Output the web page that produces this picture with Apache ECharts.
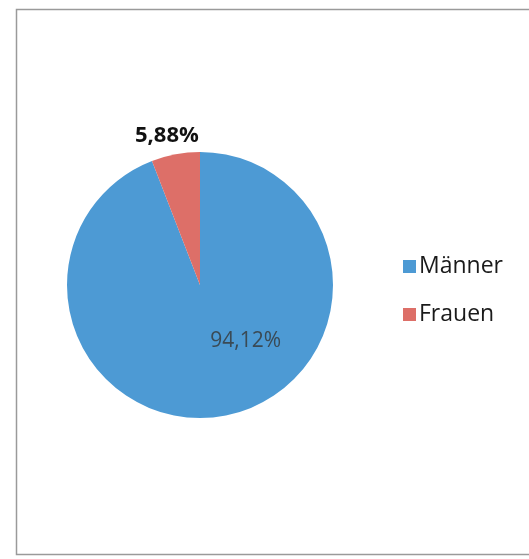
<!DOCTYPE html>
<html>
<head>
<meta charset="utf-8">
<script src="https://cdn.jsdelivr.net/npm/echarts@6/dist/echarts.min.js"></script>
<style>
html,body{margin:0;padding:0;background:#fff;}
#c{width:529px;height:559px;}
</style>
</head>
<body>
<div id="c"></div>
<script>
const categories = ['Männer', 'Frauen'];
const values = [94.12, 5.88];
const labels = ['94,12%', '5,88%'];

const chart = echarts.init(document.getElementById('c'), null, {renderer: 'canvas'});
chart.setOption({
  backgroundColor: '#ffffff',
  animation: false,
  color: ['#4d9ad4', '#dd6f68'],
  graphic: [{
    type: 'rect',
    shape: {x: 16.5, y: 9.5, width: 530, height: 545},
    style: {fill: 'none', stroke: '#9a9a9a', lineWidth: 1.5},
    silent: true
  }],
  legend: {
    orient: 'vertical',
    left: 398,
    top: 250,
    itemWidth: 13,
    itemHeight: 13,
    itemGap: 25,
    icon: 'rect',
    textStyle: {fontFamily: 'Open Sans', fontSize: 23, color: '#1a1a1a', padding: [0,0,0,-2]},
    data: categories
  },
  series: [{
    type: 'pie',
    center: [200, 285],
    radius: 133,
    startAngle: 90,
    clockwise: true,
    itemStyle: {borderWidth: 0},
    labelLine: {show: false},
    data: categories.map((c, i) => ({
      name: c,
      value: values[i],
      label: i === 0 ? {
        show: true, position: 'inside', formatter: labels[i],
        fontFamily: 'Open Sans', fontSize: 21, color: '#3a4a55', offset: [33, -12]
      } : {
        show: true, position: 'outside', formatter: labels[i],
        fontFamily: 'Open Sans', fontSize: 22, fontWeight: 'bold', color: '#111',
        distanceToLabelLine: 0, offset: [24, -15]
      },
      labelLine: {show: false, length: 4, length2: 0}
    }))
  }]
});
</script>
</body>
</html>
